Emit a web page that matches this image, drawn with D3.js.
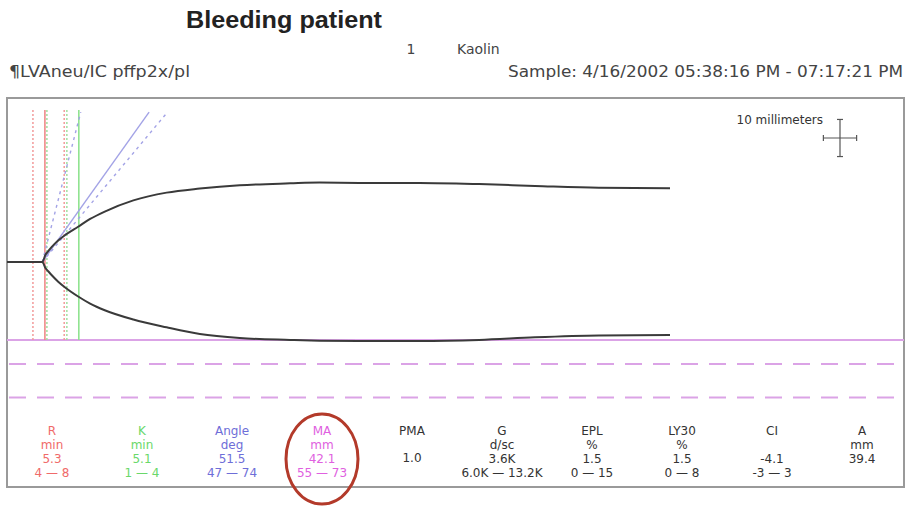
<!DOCTYPE html>
<html>
<head>
<meta charset="utf-8">
<script src="https://cdn.jsdelivr.net/npm/d3@7"></script>
<style>
  html, body { margin: 0; padding: 0; background: #fff; }
  svg { display: block; }
</style>
</head>
<body>
<script>
// ---- data ----
const title = "Bleeding patient";
const channelNo = "1";
const activator = "Kaolin";
const sampleId = "¶LVAneu/IC pffp2x/pl";
const sampleTime = "Sample: 4/16/2002 05:38:16 PM - 07:17:21 PM";

// trace: time (min) and half-amplitude (mm) of upper and lower branches
const times   = [0, 5.3, 5.8, 6.2, 6.7, 7.7, 8.7, 10.7, 12.5, 14.7, 19, 24, 29, 35, 42.6, 47, 53, 62, 71, 79.4, 89, 99.7];
const upperMm = [0, 0, 2.0, 2.9, 4.0, 5.8, 7.2, 9.5, 11.6, 13.6, 16.6, 18.7, 19.8, 20.7, 21.2, 21.4, 21.3, 21.3, 21.0, 20.5, 20.0, 19.9];
const lowerMm = [0, 0, -1.7, -2.5, -3.5, -5.3, -6.8, -9.3, -11.2, -13.0, -15.5, -17.6, -19.4, -20.5, -21.0, -21.2, -21.3, -21.3, -21.0, -20.3, -19.8, -19.7];

// marker lines (min)
const rRangeLines = [3.9, 8.6];
const rValueLine = 5.7;
const kRangeLines = [6.0, 9.0];
const kValueLine = 10.8;
const angleStart = 5.3;
const angleValue = 51.5;
const angleRange = [47, 74];
const maValue = 42.1;
const maRange = [55, 73];
const chartSpeed = 2; // mm per minute
const scaleLabel = "10 millimeters";

// result table
const paramNames  = ["R", "K", "Angle", "MA", "PMA", "G", "EPL", "LY30", "CI", "A"];
const paramUnits  = ["min", "min", "deg", "mm", "", "d/sc", "%", "%", "", "mm"];
const paramValues = ["5.3", "5.1", "51.5", "42.1", "", "3.6K", "1.5", "1.5", "-4.1", "39.4"];
const paramPma    = ["", "", "", "", "1.0", "", "", "", "", ""];
const paramRanges = ["4 — 8", "1 — 4", "47 — 74", "55 — 73", "", "6.0K — 13.2K", "0 — 15", "0 — 8", "-3 — 3", ""];
const paramColors = ["#f06a6a", "#6ad86a", "#6e6ed8", "#e060e0", "#333", "#333", "#333", "#333", "#333", "#333"];

// ---- drawing ----
const W = 909, H = 506;
const svg = d3.select("body").append("svg").attr("width", W).attr("height", H);
const font = "'DejaVu Sans', Verdana, sans-serif";

const x = d3.scaleLinear().domain([0, 100]).range([7, 672]);
const y = d3.scaleLinear().domain([0, 40]).range([262, 262 - 148.4]);
const frame = {left: 7, right: 904, top: 98, bottom: 487};
const topMm = 40.4;

// header
svg.append("text").attr("x", 284).attr("y", 28).attr("text-anchor", "middle")
  .attr("font-family", "'Liberation Sans', Arial, sans-serif").attr("font-weight", "bold")
  .attr("font-size", 24).attr("fill", "#222")
  .attr("textLength", 196).attr("lengthAdjust", "spacingAndGlyphs").text(title);
svg.append("text").attr("x", 411).attr("y", 54).attr("text-anchor", "middle")
  .attr("font-family", font).attr("font-size", 14).attr("fill", "#444").text(channelNo);
svg.append("text").attr("x", 457).attr("y", 54)
  .attr("font-family", font).attr("font-size", 14).attr("fill", "#444").text(activator);
svg.append("text").attr("x", 9).attr("y", 77)
  .attr("font-family", font).attr("font-size", 15).attr("fill", "#444")
  .attr("textLength", 181).attr("lengthAdjust", "spacingAndGlyphs").text(sampleId);
svg.append("text").attr("x", 508).attr("y", 77)
  .attr("font-family", font).attr("font-size", 15).attr("fill", "#444")
  .attr("textLength", 395).attr("lengthAdjust", "spacingAndGlyphs").text(sampleTime);

// frame
svg.append("rect").attr("x", frame.left).attr("y", frame.top)
  .attr("width", frame.right - frame.left).attr("height", frame.bottom - frame.top)
  .attr("fill", "none").attr("stroke", "#9a9a9a").attr("stroke-width", 2);

// MA lines
const maColor = "#dba3e6";
svg.append("line").attr("x1", frame.left).attr("x2", frame.right)
  .attr("y1", y(-maValue / 2)).attr("y2", y(-maValue / 2))
  .attr("stroke", maColor).attr("stroke-width", 2);
maRange.forEach(v => {
  svg.append("line").attr("x1", frame.left + 2).attr("x2", frame.right)
    .attr("y1", y(-v / 2)).attr("y2", y(-v / 2))
    .attr("stroke", maColor).attr("stroke-width", 2).attr("stroke-dasharray", "17,11");
});

// vertical markers
const vBottom = y(-maValue / 2);
function vline(t, color, dash, w) {
  svg.append("line").attr("x1", x(t)).attr("x2", x(t))
    .attr("y1", y(topMm) - 2).attr("y2", vBottom)
    .attr("stroke", color).attr("stroke-width", w || 1.5)
    .attr("stroke-dasharray", dash || null);
}
rRangeLines.forEach(t => vline(t, "#f29a9a", "2,2", 1.5));
vline(rValueLine, "#ef8a8a", null, 1.6);
kRangeLines.forEach(t => vline(t, "#9fe09f", "2,2", 1.5));
vline(kValueLine, "#8fe38f", null, 1.6);

// angle lines
function angleLine(deg, dash) {
  const dt = topMm / (chartSpeed * Math.tan(deg * Math.PI / 180));
  svg.append("line").attr("x1", x(angleStart)).attr("y1", y(0))
    .attr("x2", x(angleStart + dt)).attr("y2", y(topMm))
    .attr("stroke", "#a3a3e6").attr("stroke-width", 1.4)
    .attr("stroke-dasharray", dash || null);
}
angleRange.forEach(a => angleLine(a, "3,4"));
angleLine(angleValue);

// trace
const lineGen = d3.line().curve(d3.curveMonotoneX);
[upperMm, lowerMm].forEach(arr => {
  svg.append("path")
    .attr("d", lineGen(times.map((t, i) => [x(t), y(arr[i])])))
    .attr("fill", "none").attr("stroke", "#3a3a3a").attr("stroke-width", 2);
});

// scale cross
const cx = 840, cy = 138;
const hLen = x(10 / chartSpeed) - x(0);
const vLen = y(0) - y(10);
const cross = svg.append("g").attr("stroke", "#555").attr("stroke-width", 1.2);
cross.append("line").attr("x1", cx - hLen / 2).attr("x2", cx + hLen / 2).attr("y1", cy).attr("y2", cy);
cross.append("line").attr("x1", cx).attr("x2", cx).attr("y1", cy - vLen / 2).attr("y2", cy + vLen / 2);
[-1, 1].forEach(s => {
  cross.append("line").attr("x1", cx + s * hLen / 2).attr("x2", cx + s * hLen / 2).attr("y1", cy - 3).attr("y2", cy + 3);
  cross.append("line").attr("x1", cx - 3).attr("x2", cx + 3).attr("y1", cy + s * vLen / 2).attr("y2", cy + s * vLen / 2);
});
svg.append("text").attr("x", 823).attr("y", 124).attr("text-anchor", "end")
  .attr("font-family", font).attr("font-size", 12).attr("fill", "#333").text(scaleLabel);

// table
const colX = d3.scalePoint().domain(paramNames).range([52, 862]);
const rowY = [434.5, 448.8, 463.1, 477.4];
const tbl = svg.append("g").attr("font-family", font).attr("font-size", 12).attr("text-anchor", "middle");
paramNames.forEach((n, i) => {
  const cxp = colX(n);
  const rows = [n, paramUnits[i], paramValues[i] || paramPma[i], paramRanges[i]];
  rows.forEach((txt, r) => {
    if (!txt) return;
    let yy = rowY[r];
    if (paramPma[i] && r === 2) yy = rowY[2] - 1;
    tbl.append("text").attr("x", cxp).attr("y", yy).attr("fill", paramColors[i]).text(txt);
  });
});

// highlight circle around MA
svg.append("ellipse").attr("cx", colX("MA")).attr("cy", 459).attr("rx", 36).attr("ry", 45)
  .attr("fill", "none").attr("stroke", "#b33a2a").attr("stroke-width", 3);
</script>
</body>
</html>
